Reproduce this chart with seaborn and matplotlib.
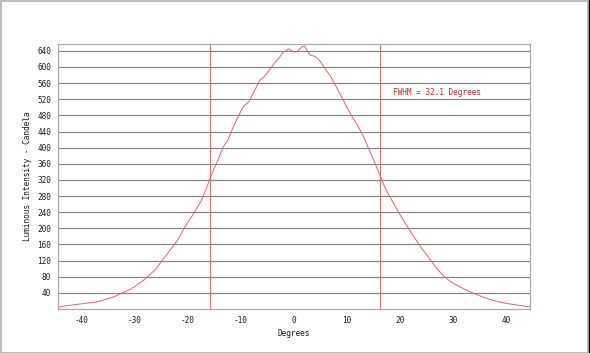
import matplotlib
matplotlib.use("Agg")
import matplotlib.pyplot as plt
import seaborn as sns
import pandas as pd
from matplotlib.patches import Rectangle
from matplotlib.lines import Line2D

degrees = [-44.5, -43, -40, -37, -34, -31, -30, -28, -26, -25, -24, -22, -20.5, -19, -17.5,
           -16.5, -15.8, -15, -14, -13.3, -12.5, -11.5, -10.5, -9.5, -8.5, -7.5, -6.5, -5.5,
           -4.5, -3.5, -2.5, -2, -1.5, -1, -0.5, 0, 0.5, 1, 1.5, 2, 2.5, 3, 4, 5, 6, 7, 8, 9,
           10, 11, 12, 13, 14, 15, 16.5, 17, 17.5, 18.5, 19.7, 21, 22.5, 24, 25.7, 27, 28.2, 29,
           30, 31.3, 32, 33, 34, 36, 37.6, 40, 42, 44.5]
candela = [4, 8, 13, 18, 30, 48, 56, 75, 100, 118, 135, 170, 205, 235, 268,
           300, 325, 350, 380, 403, 418, 450, 478, 503, 514, 540, 566, 578,
           595, 612, 628, 638, 640, 645, 641, 637, 638, 643, 650, 652, 640, 630, 626, 613, 593, 575, 550, 525,
           500, 476, 455, 430, 400, 370, 322, 306, 292, 268, 240, 212, 181, 152, 122, 99, 82, 73,
           64, 55, 50, 44, 38, 28, 21, 14, 10, 5]
fwhm_lines = [-15.85, 16.25]
y_ticks = list(range(40, 641, 40))
x_ticks = [-40, -30, -20, -10, 0, 10, 20, 30, 40]
fwhm_label = "FWHM = 32.1 Degrees"

sns.set_style("white")
plt.rcParams['font.family'] = ['DejaVu Sans Mono']
plt.rcParams['axes.unicode_minus'] = False

fs = 5.6
fig = plt.figure(figsize=(5.9, 3.53), dpi=100)
ax = fig.add_axes([58/590, 1-309/353, (530-58)/590, (309-44)/353])

df = pd.DataFrame({"Degrees": degrees, "Candela": candela})
sns.lineplot(data=df, x="Degrees", y="Candela", ax=ax, color="#e06666", linewidth=0.7)

for xv in fwhm_lines:
    ax.axvline(xv, color="#e07070", linewidth=0.8)

ax.set_xlim(-44.5, 44.5)
ax.set_ylim(0, 657)
ax.set_yticks(y_ticks)
ax.set_xticks(x_ticks)
ax.yaxis.grid(True, color="#888888", linewidth=0.9)
ax.xaxis.grid(False)
ax.set_axisbelow(True)
for s in ax.spines.values():
    s.set_color("#aaaaaa")
    s.set_linewidth(0.9)
ax.tick_params(axis="both", length=3, width=0.8, color="#888888", labelsize=fs,
               labelcolor="#1a1a1a", pad=2)
ax.set_xlabel("Degrees", fontsize=fs, color="#1a1a1a", labelpad=3)
ax.set_ylabel("Luminous Intensity - Candela", fontsize=fs, color="#1a1a1a", labelpad=4)

ax.text(18.7, 536, fwhm_label, color="#cc2222", fontsize=fs, va="center", ha="left")

fig.patches.append(Rectangle((0.002, 0.0), 0.995, 0.996, transform=fig.transFigure,
                             fill=False, edgecolor="#b0b0b0", linewidth=1.2))
fig.lines.append(Line2D([588.5/590, 588.5/590], [0, 1], transform=fig.transFigure,
                        color="black", linewidth=1.0))

fig.savefig("out.png", dpi=100)
